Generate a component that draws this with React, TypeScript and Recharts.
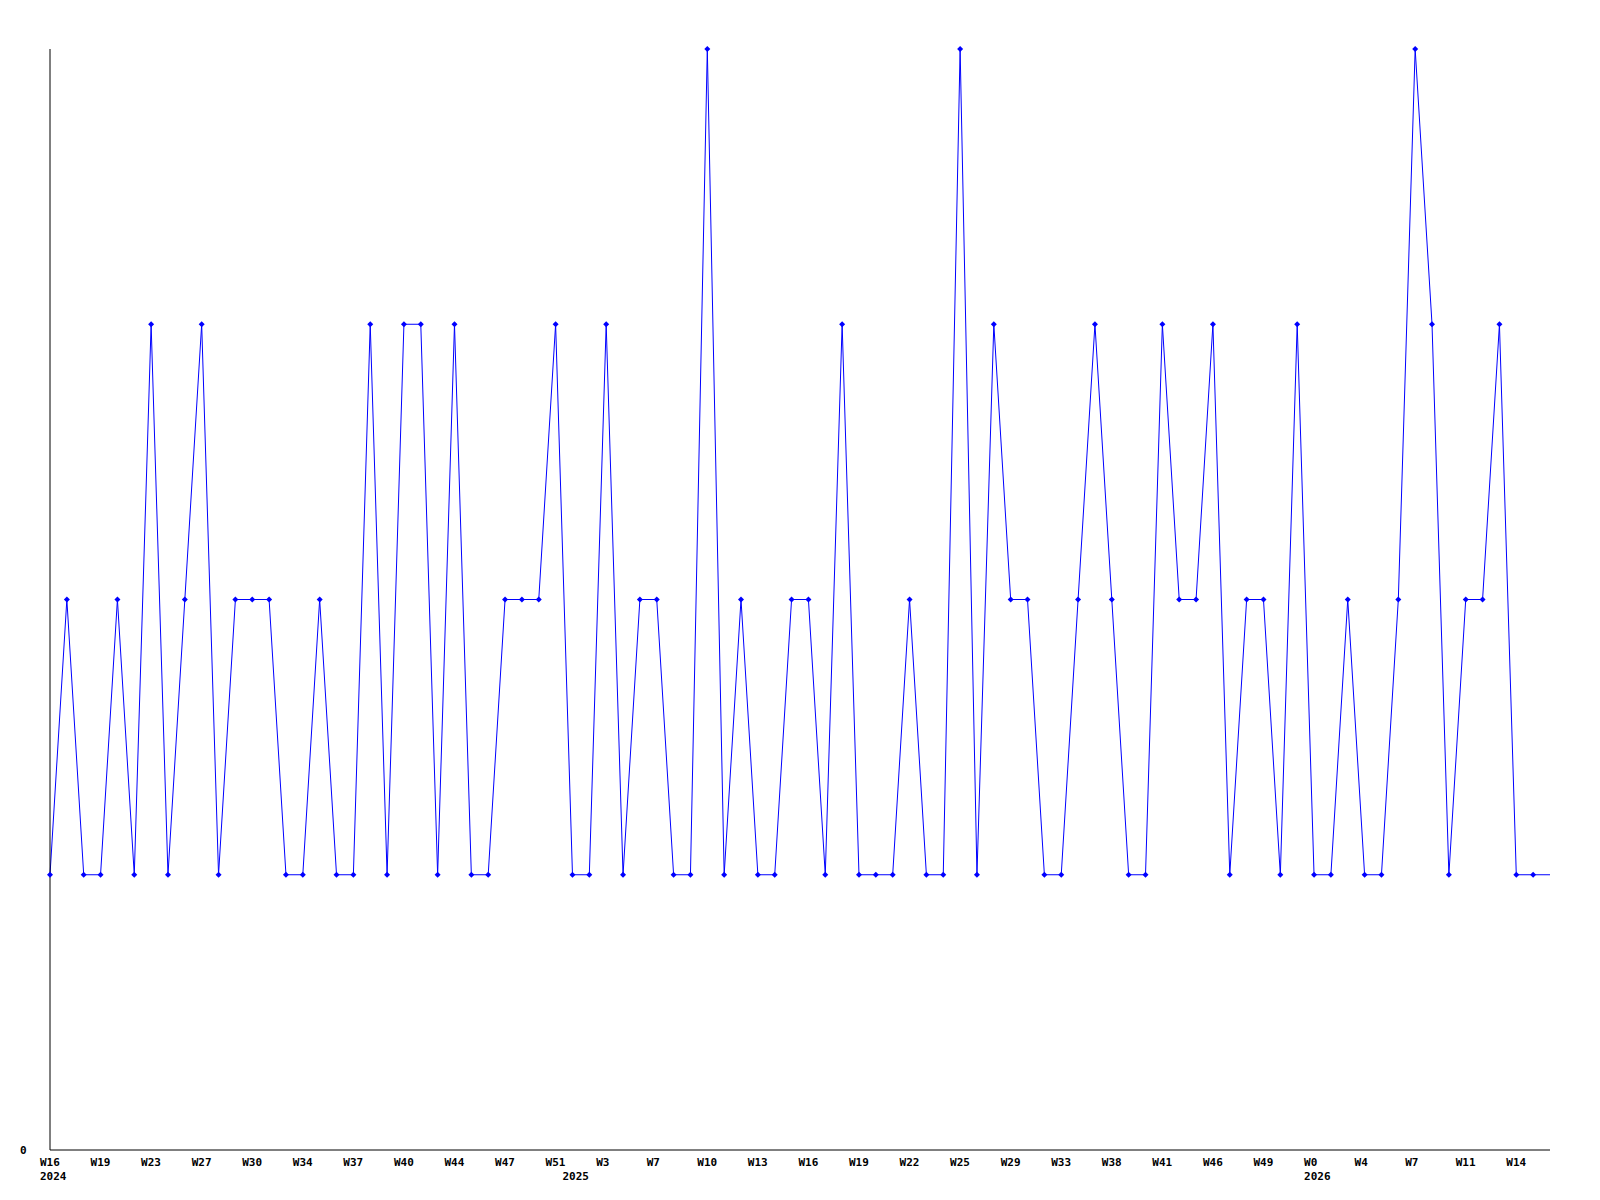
import React from 'react';
import { LineChart, Line, XAxis, YAxis } from 'recharts';

// weekly counts, one per point (last point is the running week, drawn without a marker)
const counts = [
  1, 2, 1, 1, 2, 1, 3, 1, 2, 3,
  1, 2, 2, 2, 1, 1, 2, 1, 1, 3,
  1, 3, 3, 1, 3, 1, 1, 2, 2, 2,
  3, 1, 1, 3, 1, 2, 2, 1, 1, 4,
  1, 2, 1, 1, 2, 2, 1, 3, 1, 1,
  1, 2, 1, 1, 4, 1, 3, 2, 2, 1,
  1, 2, 3, 2, 1, 1, 3, 2, 2, 3,
  1, 2, 2, 1, 3, 1, 1, 2, 1, 1,
  2, 4, 3, 1, 2, 2, 3, 1, 1, 1,
];

// a week label on every third point
const weekLabels = [
  'W16', 'W19', 'W23', 'W27', 'W30', 'W34', 'W37', 'W40', 'W44', 'W47',
  'W51', 'W3', 'W7', 'W10', 'W13', 'W16', 'W19', 'W22', 'W25', 'W29',
  'W33', 'W38', 'W41', 'W46', 'W49', 'W0', 'W4', 'W7', 'W11', 'W14',
];

const yearStarts = [
  { index: 0, year: '2024' },
  { index: 31, year: '2025' },
  { index: 75, year: '2026' },
];

const data = counts.map((v, i) => ({ i, v }));
const weekTicks = weekLabels.map((_, k) => k * 3);
const allTicks = Array.from(new Set([...weekTicks, ...yearStarts.map((y) => y.index)])).sort((a, b) => a - b);

const font = '"DejaVu Sans Mono", monospace';

const XTick = (props: any) => {
  const { x, y, payload } = props;
  const idx = payload.value;
  const k = weekTicks.indexOf(idx);
  const yr = yearStarts.find((s) => s.index === idx);
  return (
    <g>
      {k >= 0 && (
        <text x={x - 10} y={y + 8} fontFamily={font} fontWeight="bold" fontSize={11} fill="#000" textAnchor="start">
          {weekLabels[k]}
        </text>
      )}
      {yr && (
        <text x={x - 10} y={y + 22} fontFamily={font} fontWeight="bold" fontSize={11} fill="#000" textAnchor="start">
          {yr.year}
        </text>
      )}
    </g>
  );
};

const YTick = (props: any) => {
  const { y, payload } = props;
  return (
    <text x={20} y={y + 4} fontFamily={font} fontWeight="bold" fontSize={11} fill="#000" textAnchor="start">
      {payload.value}
    </text>
  );
};

const Marker = (props: any) => {
  const { cx, cy, index } = props;
  if (index === counts.length - 1 || cx == null) return <g key={index} />;
  return (
    <path
      key={index}
      d={`M${cx - 3},${cy} L${cx},${cy - 3} L${cx + 3},${cy} L${cx},${cy + 3} Z`}
      fill="#0000ff"
      stroke="none"
    />
  );
};

export default function App() {
  return (
    <div style={{ position: 'absolute', left: 0, top: 0, background: '#fff' }}>
      <LineChart width={1600} height={1200} data={data} margin={{ top: 49, right: 50, bottom: 0, left: 0 }}>
        <XAxis
          dataKey="i"
          type="number"
          domain={[0, counts.length - 1]}
          ticks={allTicks}
          interval={0}
          tick={<XTick />}
          tickLine={false}
          axisLine={{ stroke: '#000', strokeWidth: 1 }}
          height={50}
        />
        <YAxis
          type="number"
          domain={[0, 4]}
          ticks={[0]}
          tick={<YTick />}
          tickLine={false}
          axisLine={{ stroke: '#000', strokeWidth: 1 }}
          width={50}
        />
        <Line
          type="linear"
          dataKey="v"
          stroke="#0000ff"
          strokeWidth={1}
          dot={<Marker />}
          activeDot={false}
          isAnimationActive={false}
        />
      </LineChart>
    </div>
  );
}
